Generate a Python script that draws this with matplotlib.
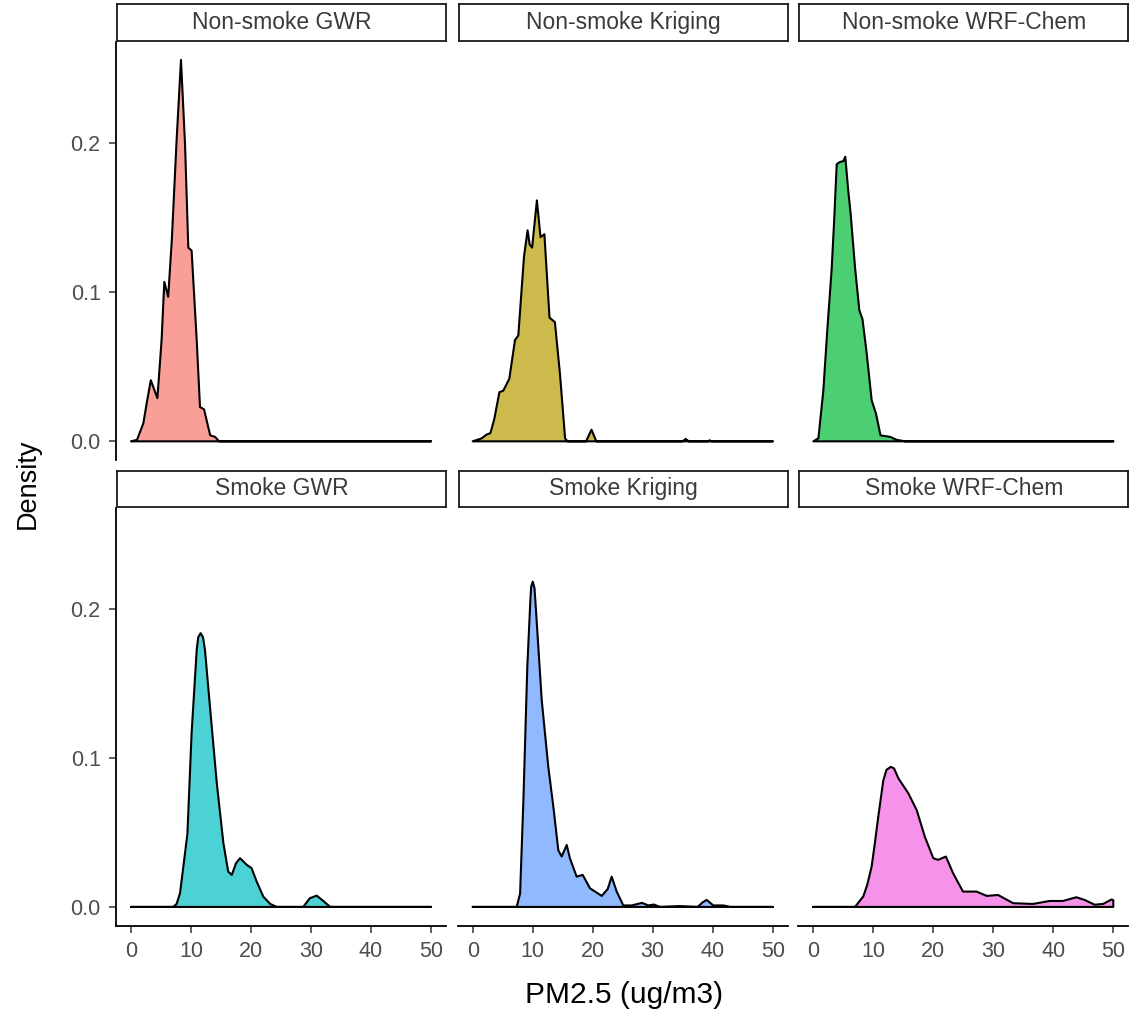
import matplotlib
matplotlib.use("Agg")
import matplotlib.pyplot as plt

plt.rcParams["font.family"] = ["Liberation Sans", "DejaVu Sans"]

# density curves (PM2.5, density)
nonsmoke_gwr_x = [0, 1.0, 2.05, 2.7, 3.3, 4.4, 5.1, 5.55, 6.2, 6.8, 7.6, 8.33, 9.0, 9.55, 10.1,
                  10.95, 11.5, 12.17, 13.2, 14.0, 14.7, 50]
nonsmoke_gwr_y = [0, 0.001, 0.012, 0.0275, 0.041, 0.029, 0.068, 0.107, 0.097, 0.135, 0.202, 0.256,
                  0.200, 0.130, 0.128, 0.068, 0.023, 0.0215, 0.004, 0.003, 0, 0]

nonsmoke_kriging_x = [0, 1.5, 2.3, 2.95, 3.6, 4.45, 5.1, 6.1, 7.05, 7.6, 8.55, 9.15, 9.5, 9.9,
                      10.7, 11.3, 11.95, 12.8, 13.7, 14.55, 15.4, 15.8, 18.9, 19.8, 20.6, 35.0,
                      35.5, 36.0, 39.2, 39.5, 39.8, 50]
nonsmoke_kriging_y = [0, 0.002, 0.0045, 0.0055, 0.015, 0.033, 0.034, 0.042, 0.068, 0.071, 0.124,
                      0.1416, 0.132, 0.130, 0.1617, 0.137, 0.139, 0.083, 0.080, 0.045, 0.002, 0,
                      0, 0.0078, 0, 0, 0.0016, 0, 0, 0.0007, 0, 0]

nonsmoke_wrf_x = [0, 0.85, 1.67, 2.33, 3.05, 3.45, 3.9, 4.45, 5.0, 5.33, 5.83, 6.22, 6.95, 7.67,
                  8.2, 8.9, 9.73, 10.45, 11.2, 12.8, 13.9, 15.3, 50]
nonsmoke_wrf_y = [0, 0.002, 0.034, 0.0745, 0.115, 0.146, 0.186, 0.1875, 0.188, 0.191, 0.168,
                  0.153, 0.117, 0.088, 0.082, 0.059, 0.0275, 0.0186, 0.004, 0.003, 0.001, 0, 0]

smoke_gwr_x = [0, 7.05, 7.6, 8.17, 9.4, 10.1, 10.95, 11.2, 11.6, 12.0, 12.33, 13.17, 14.3, 15.4,
               16.2, 16.8, 17.5, 18.17, 19.3, 20.1, 20.95, 22.05, 23.2, 24.3, 28.7, 29.8, 30.95,
               32.05, 33.2, 50]
smoke_gwr_y = [0, 0, 0.002, 0.0092, 0.049, 0.1166, 0.1725, 0.181, 0.1837, 0.181, 0.1725, 0.134,
               0.083, 0.0428, 0.0237, 0.0215, 0.0293, 0.0327, 0.0282, 0.026, 0.017, 0.0069,
               0.002, 0, 0, 0.0058, 0.0076, 0.004, 0, 0]

smoke_kriging_x = [0, 7.33, 7.9, 8.45, 9.1, 9.6, 9.75, 10.0, 10.3, 10.55, 11.5, 12.6, 13.45,
                   14.27, 14.83, 15.67, 16.2, 17.33, 18.33, 19.55, 21.5, 22.5, 23.17, 24.0, 25.1,
                   26.5, 28.2, 29.3, 30.2, 31.2, 34.5, 37.5, 38.3, 39.0, 40.1, 41.8, 42.9, 50]
smoke_kriging_y = [0, 0, 0.009, 0.0718, 0.161, 0.205, 0.215, 0.2183, 0.214, 0.199, 0.139, 0.094,
                   0.067, 0.038, 0.0338, 0.0416, 0.0327, 0.0203, 0.0215, 0.0125, 0.0074, 0.012,
                   0.0203, 0.0103, 0.001, 0.001, 0.0027, 0.001, 0.0016, 0, 0.0005, 0, 0.003,
                   0.0047, 0.001, 0.001, 0, 0]

smoke_wrf_x = [0, 6.95, 8.33, 9.0, 9.72, 10.3, 10.83, 11.67, 12.2, 12.9, 13.45, 14.17, 15.83,
               17.23, 18.6, 20.0, 20.8, 22.1, 23.3, 24.95, 27.2, 28.9, 30.8, 33.3, 36.6, 39.4,
               41.6, 43.85, 45.2, 46.9, 48.3, 49.7, 50]
smoke_wrf_y = [0, 0, 0.007, 0.015, 0.027, 0.044, 0.0606, 0.085, 0.092, 0.094, 0.093, 0.0864,
               0.0763, 0.065, 0.047, 0.0327, 0.0316, 0.0338, 0.0226, 0.0103, 0.0103, 0.0074,
               0.008, 0.0025, 0.002, 0.004, 0.004, 0.0065, 0.0047, 0.0015, 0.002, 0.005, 0.0045]

panel_titles = ["Non-smoke GWR", "Non-smoke Kriging", "Non-smoke WRF-Chem",
                "Smoke GWR", "Smoke Kriging", "Smoke WRF-Chem"]
panel_x = [nonsmoke_gwr_x, nonsmoke_kriging_x, nonsmoke_wrf_x,
           smoke_gwr_x, smoke_kriging_x, smoke_wrf_x]
panel_y = [nonsmoke_gwr_y, nonsmoke_kriging_y, nonsmoke_wrf_y,
           smoke_gwr_y, smoke_kriging_y, smoke_wrf_y]
fill_colors = ["#F8766D", "#B79F00", "#00BA38", "#00BFC4", "#619CFF", "#F564E3"]

x_ticks = [0, 10, 20, 30, 40, 50]
y_ticks = [0.0, 0.1, 0.2]
y_ticklabels = ["0.0", "0.1", "0.2"]

W, H = 1136, 1017
fig = plt.figure(figsize=(W / 100, H / 100), dpi=100)

col_left = [116, 457.7, 798.3]
col_w = 330
row_top = [42, 507.6]
row_h = 418.4
strip_top = [4, 470.5]
strip_h = 36.5


def px(left, top, w, h):
    return [left / W, 1 - (top + h) / H, w / W, h / H]


for i in range(6):
    r, c = divmod(i, 3)
    ax = fig.add_axes(px(col_left[c], row_top[r], col_w, row_h))
    # close the polygon along the baseline, like ggplot's full outline
    xs = list(panel_x[i]) + [panel_x[i][-1], panel_x[i][0]]
    ys = list(panel_y[i]) + [0, 0]
    ax.fill(xs, ys, facecolor=fill_colors[i], alpha=0.7, edgecolor="none")
    ax.fill(xs, ys, facecolor="none", edgecolor="black", linewidth=1.5, joinstyle="round")
    ax.set_xlim(-2.5, 52.5)
    ax.set_ylim(-0.0128, 0.268)
    for s in ["top", "right"]:
        ax.spines[s].set_visible(False)
    ax.spines["left"].set_visible(c == 0)
    ax.spines["bottom"].set_visible(r == 1)
    for s in ["left", "bottom"]:
        ax.spines[s].set_linewidth(1.3)
        ax.spines[s].set_color("black")
    ax.tick_params(colors="#333333", labelcolor="#4D4D4D", labelsize=15.5, width=1.1,
                   length=5, pad=6)
    if c == 0:
        ax.set_yticks(y_ticks)
        ax.set_yticklabels(y_ticklabels)
    else:
        ax.set_yticks([])
    if r == 1:
        ax.set_xticks(x_ticks)
    else:
        ax.set_xticks([])

    sax = fig.add_axes(px(col_left[c] + 1, strip_top[r], col_w - 1, strip_h))
    sax.set_xticks([])
    sax.set_yticks([])
    for s in sax.spines.values():
        s.set_linewidth(1.3)
        s.set_color("#1A1A1A")
    sax.text(0.5, 0.5, panel_titles[i], ha="center", va="center", fontsize=16.5,
             color="#3A3A3A", transform=sax.transAxes)

fig.text(28 / W, 1 - 484 / H, "Density", rotation=90, ha="center", va="center",
         fontsize=19.5, color="black")
fig.text(624 / W, 1 - 995 / H, "PM2.5 (ug/m3)", ha="center", va="center",
         fontsize=21.5, color="black")

fig.savefig("out.png", dpi=100, facecolor="white")
